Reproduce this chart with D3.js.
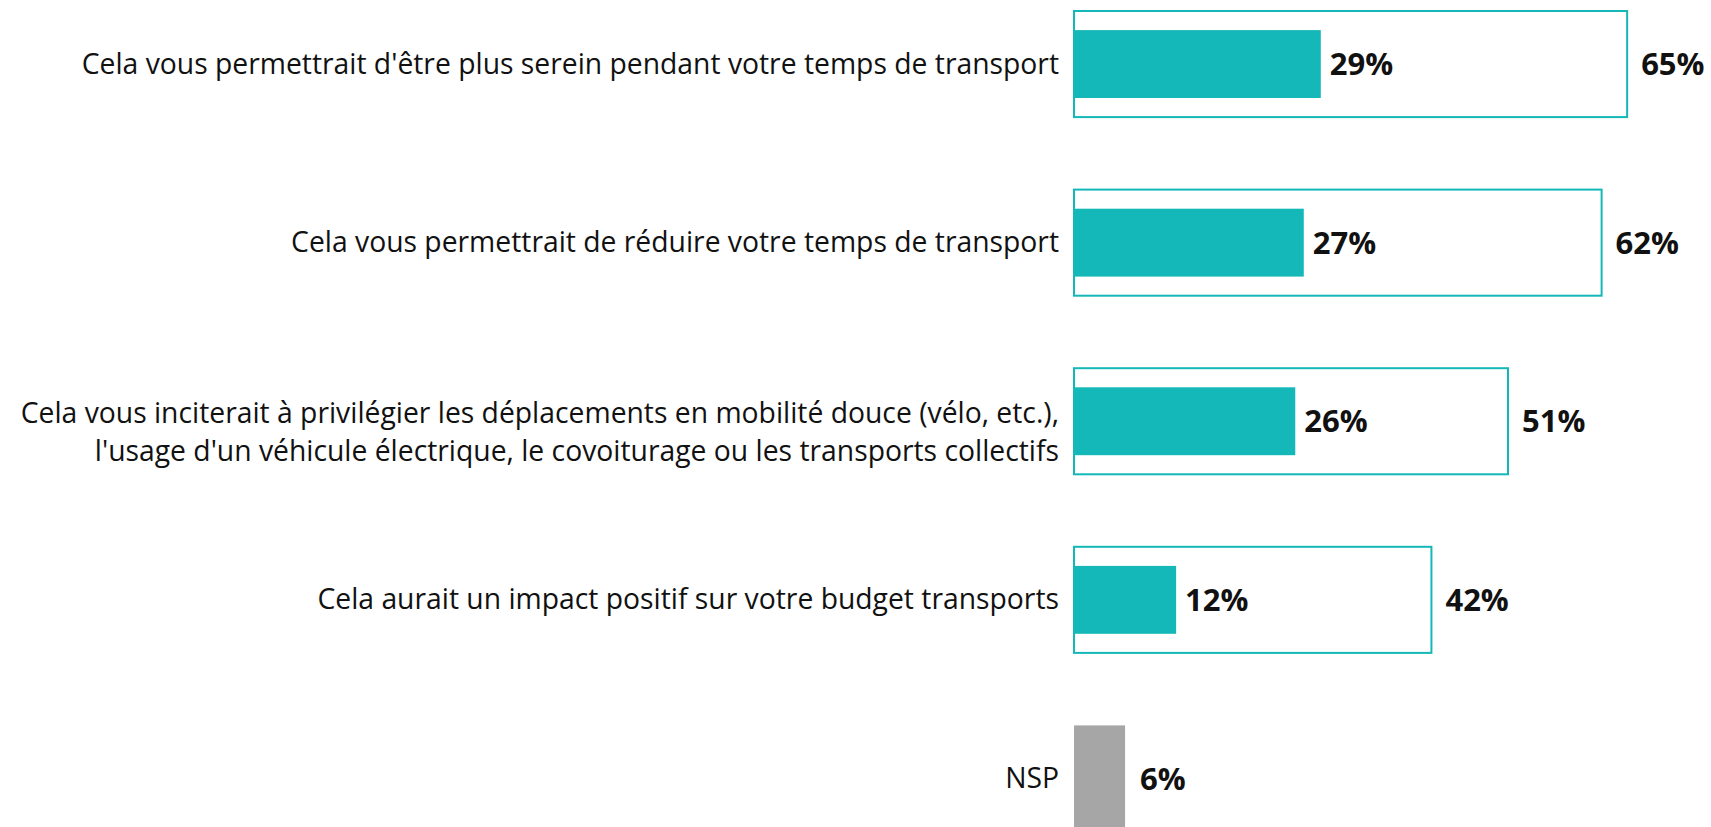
<!DOCTYPE html>
<html>
<head>
<meta charset="utf-8">
<script src="https://cdn.jsdelivr.net/npm/d3@7"></script>
<style>
  html, body { margin: 0; padding: 0; background: #ffffff; }
  svg { display: block; }
  .cat { font-family: "Open Sans", sans-serif; font-size: 28.3px; fill: #111; }
  .val { font-family: "Open Sans", sans-serif; font-size: 31px; font-weight: 700; fill: #111; }
</style>
</head>
<body>
<svg id="chart" width="1711" height="827"></svg>
<script>
// ---- data ----
const categories = [
  ["Cela vous permettrait d'être plus serein pendant votre temps de transport"],
  ["Cela vous permettrait de réduire votre temps de transport"],
  ["Cela vous inciterait à privilégier les déplacements en mobilité douce (vélo, etc.),",
   "l'usage d'un véhicule électrique, le covoiturage ou les transports collectifs"],
  ["Cela aurait un impact positif sur votre budget transports"]
];
const totalValues = [65, 62, 51, 42];   // outlined box
const firstValues = [29, 27, 26, 12];   // filled bar
const nspLabel = "NSP";
const nspValue = 6;

// ---- layout ----
const svg = d3.select("#chart");
const teal = "#14b8b8";
const grey = "#a6a6a6";

const keys = categories.map((c, i) => "c" + i).concat(["nsp"]);
const y = d3.scaleBand().domain(keys).range([11, 831.5]).paddingInner(0.406).paddingOuter(0);
const x = d3.scaleLinear().domain([0, 100]).range([1074, 1925]);

const rows = categories.map((c, i) => ({ key: "c" + i, lines: c, total: totalValues[i], first: firstValues[i] }));

// outlined boxes
svg.selectAll("rect.box").data(rows).join("rect")
  .attr("class", "box")
  .attr("x", x(0))
  .attr("y", d => y(d.key))
  .attr("width", d => x(d.total) - x(0))
  .attr("height", y.bandwidth())
  .attr("fill", "none")
  .attr("stroke", teal)
  .attr("stroke-width", 2);

// inner filled bars
const innerH = y.bandwidth() * 0.64;
svg.selectAll("rect.first").data(rows).join("rect")
  .attr("class", "first")
  .attr("x", x(0))
  .attr("y", d => y(d.key) + (y.bandwidth() - innerH) / 2)
  .attr("width", d => x(d.first) - x(0))
  .attr("height", innerH)
  .attr("fill", teal);

// NSP bar
svg.append("rect")
  .attr("x", x(0))
  .attr("y", y("nsp"))
  .attr("width", x(nspValue) - x(0))
  .attr("height", y.bandwidth())
  .attr("fill", grey);

// value labels
svg.selectAll("text.vfirst").data(rows).join("text")
  .attr("class", "val vfirst")
  .attr("x", d => x(d.first) + 9)
  .attr("y", d => y(d.key) + y.bandwidth() / 2)
  .attr("dy", "0.36em")
  .text(d => d.first + "%");

svg.selectAll("text.vtotal").data(rows).join("text")
  .attr("class", "val vtotal")
  .attr("x", d => x(d.total) + 14)
  .attr("y", d => y(d.key) + y.bandwidth() / 2)
  .attr("dy", "0.36em")
  .text(d => d.total + "%");

svg.append("text")
  .attr("class", "val")
  .attr("x", x(nspValue) + 15)
  .attr("y", y("nsp") + y.bandwidth() / 2)
  .attr("dy", "0.36em")
  .text(nspValue + "%");

// category labels
const fs = 28.3;
const lineH = 38;
const catG = svg.selectAll("text.cat").data(rows.concat([{ key: "nsp", lines: [nspLabel] }])).join("text")
  .attr("class", "cat")
  .attr("text-anchor", "end")
  .attr("x", x(0) - 15)
  .attr("y", d => y(d.key) + y.bandwidth() / 2);
catG.selectAll("tspan").data(d => d.lines.map((l, i) => ({ l, i, n: d.lines.length }))).join("tspan")
  .attr("x", x(0) - 15)
  .attr("dy", d => d.i === 0
    ? (0.34 * fs + (d.n > 1 ? 11 - (d.n - 1) * lineH / 2 : 0)) + "px"
    : lineH + "px")
  .text(d => d.l);
</script>
</body>
</html>
